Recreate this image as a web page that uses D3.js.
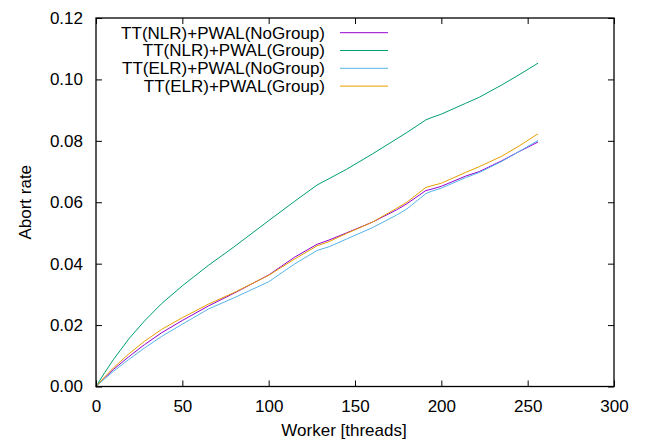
<!DOCTYPE html>
<html>
<head>
<meta charset="utf-8">
<script src="https://cdn.jsdelivr.net/npm/d3@7"></script>
<style>
  body { margin: 0; background: #fff; }
  text { font-family: "Liberation Sans", Arial, sans-serif; }
</style>
</head>
<body>
<div id="chart"></div>
<script>
  // worker counts and abort rates
  var workers = [0, 5, 10, 19, 28, 38, 50, 65, 80, 100, 115, 128, 135, 145, 160, 174, 180, 191, 194, 200, 214, 222, 235, 245, 256];
  var nlrNoGroup = [0, 0.0028, 0.0055, 0.0097, 0.0136, 0.0175, 0.0215, 0.0262, 0.0304, 0.0363, 0.0421, 0.0463, 0.0477, 0.0500, 0.0535, 0.0575, 0.0595, 0.0638, 0.0642, 0.0652, 0.0685, 0.0700, 0.0735, 0.0765, 0.0796];
  var nlrGroup   = [0, 0.0045, 0.0087, 0.0155, 0.0213, 0.0270, 0.0328, 0.0394, 0.0455, 0.0540, 0.0603, 0.0656, 0.0677, 0.0707, 0.0757, 0.0806, 0.0827, 0.0868, 0.0875, 0.0887, 0.0922, 0.0942, 0.0982, 0.1015, 0.1053];
  var elrNoGroup = [0, 0.0025, 0.0049, 0.0088, 0.0125, 0.0163, 0.0203, 0.0252, 0.0289, 0.0341, 0.0399, 0.0443, 0.0455, 0.0480, 0.0517, 0.0558, 0.0578, 0.0628, 0.0635, 0.0646, 0.0680, 0.0697, 0.0733, 0.0765, 0.0801];
  var elrGroup   = [0, 0.0031, 0.0060, 0.0106, 0.0147, 0.0186, 0.0224, 0.0268, 0.0306, 0.0362, 0.0415, 0.0458, 0.0472, 0.0498, 0.0535, 0.0580, 0.0600, 0.0648, 0.0653, 0.0662, 0.0697, 0.0716, 0.0750, 0.0783, 0.0823];
  var seriesNames = ["TT(NLR)+PWAL(NoGroup)", "TT(NLR)+PWAL(Group)", "TT(ELR)+PWAL(NoGroup)", "TT(ELR)+PWAL(Group)"];
  var seriesColors = ["#9400d3", "#009e73", "#56b4e9", "#e69f00"];
  var xTicks = [0, 50, 100, 150, 200, 250, 300];
  var yTicks = [0, 0.02, 0.04, 0.06, 0.08, 0.10, 0.12];

  var width = 645, height = 442;
  var margin = {left: 96, right: 31, top: 18, bottom: 55.5};
  var w = width - margin.left - margin.right;
  var h = height - margin.top - margin.bottom;
  var fontSize = "17px";

  var xScale = d3.scaleLinear().domain([0, 300]).range([0, w]);
  var yScale = d3.scaleLinear().domain([0, 0.12]).range([h, 0]);

  var svg = d3.select("#chart").append("svg")
    .attr("width", width)
    .attr("height", height);

  var g = svg.append("g").attr("transform", "translate(" + margin.left + "," + margin.top + ")");

  var allSeries = [nlrNoGroup, nlrGroup, elrNoGroup, elrGroup];

  var line = d3.line()
    .x(function(d, i) { return xScale(workers[i]); })
    .y(function(d) { return yScale(d); });

  allSeries.forEach(function(s, k) {
    g.append("path")
      .datum(s)
      .attr("fill", "none")
      .attr("stroke", seriesColors[k])
      .attr("stroke-width", 1)
      .attr("d", line);
  });

  // axes: inward ticks, mirrored on top and right
  var tickLen = 6;
  g.append("g")
    .attr("transform", "translate(0," + h + ")")
    .call(d3.axisBottom(xScale).tickValues(xTicks).tickSizeInner(-tickLen).tickSizeOuter(0).tickPadding(13))
    .call(function(a) { a.select(".domain").remove(); });
  g.append("g")
    .call(d3.axisTop(xScale).tickValues(xTicks).tickSizeInner(-tickLen).tickSizeOuter(0).tickFormat(""))
    .call(function(a) { a.select(".domain").remove(); });
  g.append("g")
    .call(d3.axisLeft(yScale).tickValues(yTicks).tickSizeInner(-tickLen).tickSizeOuter(0).tickPadding(13).tickFormat(d3.format(".2f")))
    .call(function(a) { a.select(".domain").remove(); });
  g.append("g")
    .attr("transform", "translate(" + w + ",0)")
    .call(d3.axisRight(yScale).tickValues(yTicks).tickSizeInner(-tickLen).tickSizeOuter(0).tickFormat(""))
    .call(function(a) { a.select(".domain").remove(); });

  g.selectAll(".tick text")
    .attr("font-size", fontSize)
    .attr("font-family", "Liberation Sans, Arial, sans-serif")
    .attr("fill", "#000");
  g.selectAll(".tick line").attr("stroke", "#000");

  g.append("rect")
    .attr("width", w)
    .attr("height", h)
    .attr("fill", "none")
    .attr("stroke", "#000")
    .attr("stroke-width", 1.3);

  // legend
  seriesNames.forEach(function(name, k) {
    var y = 32.7 + k * 17.8;
    svg.append("text")
      .attr("x", 325)
      .attr("y", y)
      .attr("dy", "0.35em")
      .attr("text-anchor", "end")
      .attr("font-size", fontSize)
      .text(name);
    svg.append("line")
      .attr("x1", 340).attr("x2", 388)
      .attr("y1", y).attr("y2", y)
      .attr("stroke", seriesColors[k])
      .attr("stroke-width", 1);
  });

  // axis titles
  svg.append("text")
    .attr("x", 344)
    .attr("y", 436)
    .attr("text-anchor", "middle")
    .attr("font-size", fontSize)
    .text("Worker [threads]");
  svg.append("text")
    .attr("transform", "translate(31," + (margin.top + h / 2) + ") rotate(-90)")
    .attr("text-anchor", "middle")
    .attr("font-size", fontSize)
    .text("Abort rate");
</script>
</body>
</html>
